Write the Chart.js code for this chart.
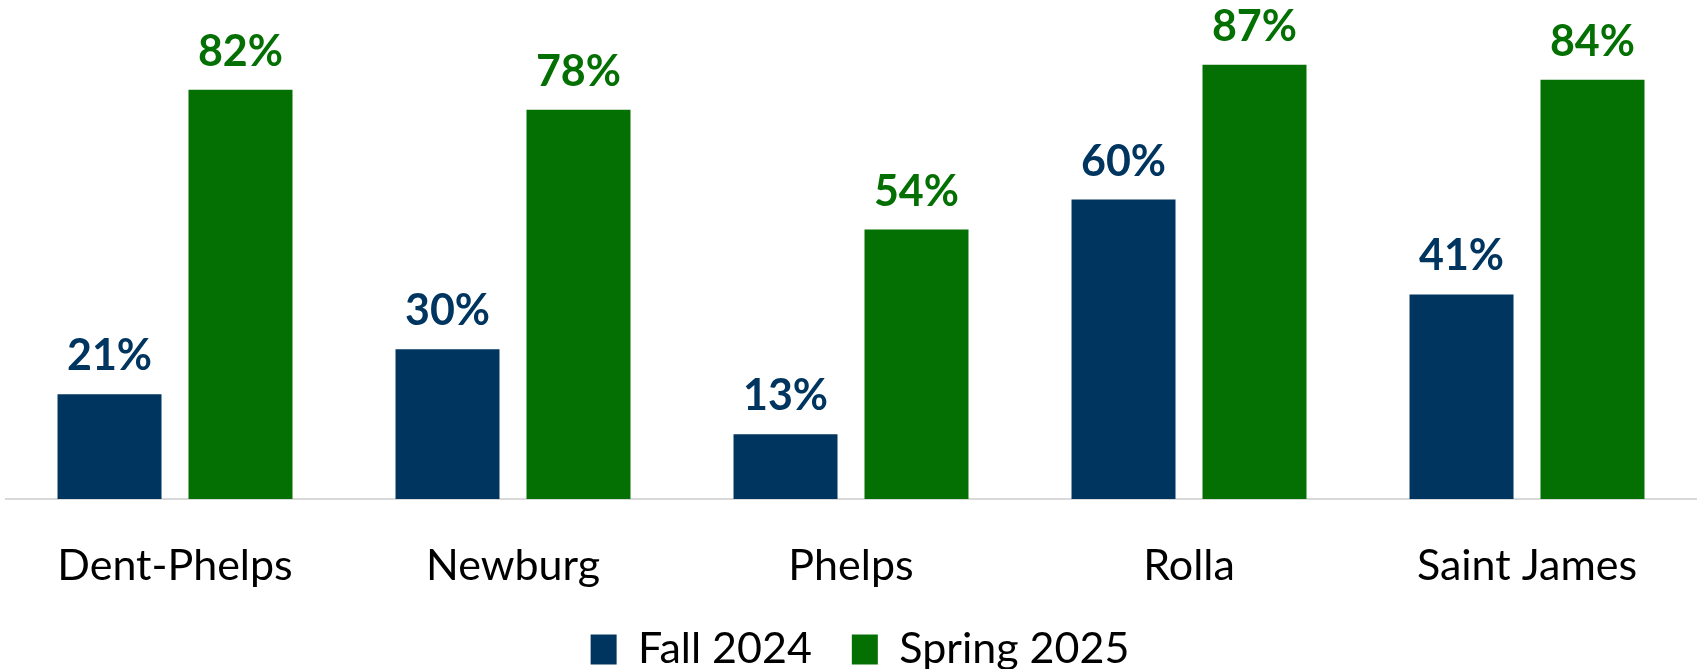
<!DOCTYPE html>
<html>
<head>
<meta charset="utf-8">
<script src="https://cdn.jsdelivr.net/npm/chart.js@4"></script>
<style>
  html, body { margin: 0; padding: 0; background: #ffffff; }
  #wrap { width: 1701px; height: 669px; position: relative; }
</style>
</head>
<body>
<div id="wrap"><canvas id="c"></canvas></div>
<script>
const categories = ["Dent-Phelps", "Newburg", "Phelps", "Rolla", "Saint James"];
const fall2024 = [21, 30, 13, 60, 41];
const spring2025 = [82, 78, 54, 87, 84];
const seriesNames = ["Fall 2024", "Spring 2025"];

const NAVY = "#003560";
const GREEN = "#047004";
const FONT = "Lato";

const valueLabels = {
  id: "valueLabels",
  afterDatasetsDraw(chart) {
    const ctx = chart.ctx;
    ctx.save();
    ctx.font = "bold 43px " + FONT;
    ctx.textAlign = "center";
    ctx.textBaseline = "alphabetic";
    chart.data.datasets.forEach((ds, i) => {
      const meta = chart.getDatasetMeta(i);
      ctx.fillStyle = ds.backgroundColor;
      meta.data.forEach((bar, j) => {
        ctx.fillText(ds.data[j] + "%", bar.x, bar.y - 24);
      });
    });
    ctx.restore();
  }
};

// nudge the legend slightly right, as in the original layout
const legendShift = {
  id: "legendShift",
  afterLayout(chart) {
    if (chart.legend) {
      chart.legend.left += 9;
      chart.legend.right += 9;
    }
  }
};

new Chart(document.getElementById("c"), {
  type: "bar",
  data: {
    labels: categories,
    datasets: [
      { label: seriesNames[0], data: fall2024, backgroundColor: NAVY,
        categoryPercentage: 0.775, barPercentage: 0.794 },
      { label: seriesNames[1], data: spring2025, backgroundColor: GREEN,
        categoryPercentage: 0.775, barPercentage: 0.794 }
    ]
  },
  options: {
    responsive: true,
    maintainAspectRatio: false,
    animation: false,
    layout: { padding: { left: 6, right: 5, top: 0, bottom: -12 } },
    plugins: {
      legend: {
        position: "bottom",
        labels: {
          font: { family: FONT, size: 43 },
          color: "#000000",
          boxWidth: 26,
          boxHeight: 30,
          padding: 40
        }
      },
      tooltip: { enabled: false }
    },
    scales: {
      x: {
        grid: { display: false },
        border: { display: true, color: "#D9D9D9", width: 2 },
        ticks: { font: { family: FONT, size: 43 }, color: "#000000", padding: 33 },
        afterFit(scale) { scale.height = 89; }
      },
      y: {
        display: false,
        min: 0,
        max: 100
      }
    }
  },
  plugins: [valueLabels, legendShift]
});
</script>
</body>
</html>
